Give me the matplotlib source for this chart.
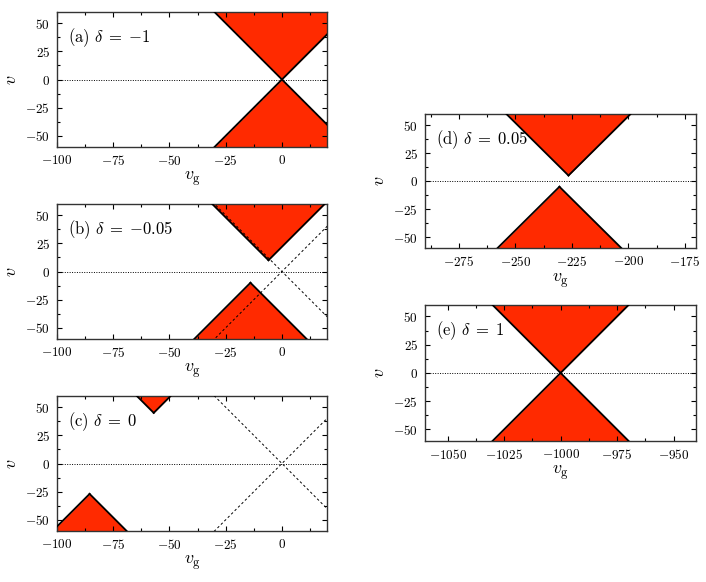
import numpy as np
import matplotlib
matplotlib.use('Agg')
import matplotlib.pyplot as plt
from matplotlib.ticker import MultipleLocator, FuncFormatter

plt.rcParams['mathtext.fontset'] = 'cm'
plt.rcParams['font.family'] = 'serif'
plt.rcParams['font.serif'] = ['DejaVu Serif']

# panel data
labels = [r'$\mathrm{(a)}\ \delta\;=\;{-1}$', r'$\mathrm{(b)}\ \delta\;=\;{-0.05}$',
          r'$\mathrm{(c)}\ \delta\;=\;0$', r'$\mathrm{(d)}\ \delta\;=\;0.05$',
          r'$\mathrm{(e)}\ \delta\;=\;1$']
xlims = [(-100, 20), (-100, 20), (-100, 20), (-290, -170), (-1060, -940)]
# cone vertices (vg, v): upper and lower
upper_vg = [0, -6, -57, -226.5, -1000]
upper_v = [0, 10, 45, 5, 0]
lower_vg = [0, -14, -85.5, -230.5, -1000]
lower_v = [0, -10, -27, -5, 0]
show_ref = [True, True, True, False, False]
speed = 2.0
vmax = 60

red = '#ff2a00'

fig = plt.figure(figsize=(7.06, 5.82), dpi=100)
rects = [
    [0.0807, 0.7474, 0.3824, 0.232],
    [0.0807, 0.4175, 0.3824, 0.232],
    [0.0807, 0.0876, 0.3824, 0.232],
    [0.6020, 0.5734, 0.3840, 0.2308],
    [0.6020, 0.2428, 0.3840, 0.2328],
]

fmt = FuncFormatter(lambda x, pos: r'$%d$' % round(x))


def cone(ax, x0, y0, up):
    vend = 2 * vmax if up else -2 * vmax
    v = np.array([y0, vend])
    half = np.abs(v - y0) / speed
    ax.fill_betweenx(v, x0 - half, x0 + half, color=red, lw=0, zorder=1)
    ax.plot(x0 - half, v, color='k', lw=1.3, zorder=3)
    ax.plot(x0 + half, v, color='k', lw=1.3, zorder=3)


for i in range(5):
    ax = fig.add_axes(rects[i])
    cone(ax, upper_vg[i], upper_v[i], True)
    cone(ax, lower_vg[i], lower_v[i], False)
    if show_ref[i]:
        vv = np.array([-2 * vmax, 2 * vmax])
        ax.plot(vv / speed, vv, color='k', lw=0.7, ls=(0, (2.5, 2.5)), zorder=4)
        ax.plot(-vv / speed, vv, color='k', lw=0.7, ls=(0, (2.5, 2.5)), zorder=4)
    ax.axhline(0, color='k', lw=0.7, ls=(0, (1, 1.5)), zorder=2)
    ax.set_xlim(*xlims[i])
    ax.set_ylim(-vmax, vmax)
    ax.xaxis.set_major_locator(MultipleLocator(25))
    ax.xaxis.set_minor_locator(MultipleLocator(12.5))
    ax.yaxis.set_major_locator(MultipleLocator(25))
    ax.yaxis.set_minor_locator(MultipleLocator(12.5))
    ax.xaxis.set_major_formatter(fmt)
    ax.yaxis.set_major_formatter(fmt)
    ax.tick_params(which='both', direction='in', top=True, right=True,
                   labelsize=9.5, width=0.8, pad=5)
    ax.tick_params(which='major', length=3.5)
    ax.tick_params(which='minor', length=2)
    for s in ax.spines.values():
        s.set_linewidth(1.0)
        s.set_color('#333333')
    ax.set_xlabel(r'$v_\mathrm{g}$', fontsize=13, labelpad=1)
    ax.set_ylabel(r'$v$', fontsize=13, labelpad=4)
    ax.text(0.04, 0.81, labels[i], transform=ax.transAxes, fontsize=12,
            va='center', ha='left', zorder=5)

plt.savefig('out.png', dpi=100)
